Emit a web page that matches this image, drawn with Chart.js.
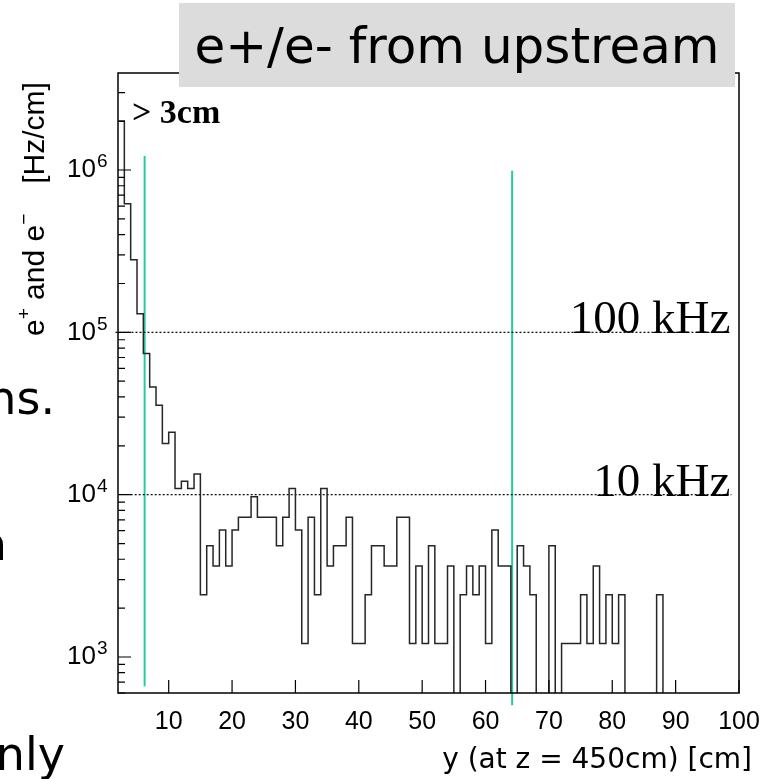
<!DOCTYPE html>
<html>
<head>
<meta charset="utf-8">
<script src="https://cdn.jsdelivr.net/npm/chart.js@4.4.0/dist/chart.umd.min.js"></script>
<style>
  html, body { margin: 0; padding: 0; background: #fff; }
</style>
</head>
<body>
<canvas id="rateChart" width="766" height="779"></canvas>
<script>
// histogram: 1 cm bins starting at y = 2 cm, rate in Hz/cm (0 = empty bin)
const binStart = 2;
const binWidth = 1;
const rates = [
  2.0e6, 6.2e5, 2.8e5, 1.3e5, 7.4e4, 4.6e4, 3.56e4, 2.07e4, 2.42e4, 1.09e4,   // 2-11
  1.21e4, 1.09e4, 1.34e4, 2420, 4850, 3640, 6060, 3640, 6060, 7270,           // 12-21
  7270, 9700, 7270, 7270, 7270, 4850, 7270, 10900, 6060, 1210,               // 22-31
  7270, 2420, 10900, 3640, 4850, 4850, 7270, 1210, 1210, 2420,               // 32-41
  4850, 4850, 3640, 3640, 7270, 7270, 1210, 3640, 1210, 4850,                // 42-51
  1210, 1210, 3640, 0, 2420, 3640, 2420, 3640, 1210, 6060,                   // 52-61
  3640, 3640, 0, 4850, 3640, 2420, 0, 0, 4850, 0,                            // 62-71
  1210, 1210, 1210, 2420, 1210, 3640, 1210, 2420, 1210, 2420,                // 72-81
  0, 0, 0, 0, 0, 2420, 0, 0, 0, 0,                                           // 82-91
  0, 0, 0, 0, 0, 0, 0, 0                                                     // 92-99
];

const xTicks = [10, 20, 30, 40, 50, 60, 70, 80, 90, 100];
const yTicks = [1e3, 1e4, 1e5, 1e6];

// reference rate lines and their labels
const refRates = [1e5, 1e4];
const refLabels = ['100 kHz', '10 kHz'];
const refFrom = [1.6, 4.0];
const refTo = 98.8;

// green cut lines
const cutX = [6.2, 64.2];
const cutTop = [1.22e6, 9.9e5];
const cutBottom = [660, 505];

const titleText = 'e+/e- from upstream';
const xTitle = 'y (at z = 450cm) [cm]';

const floorRate = 1; // empty bins drop below the axis

const histPoints = rates.map((v, i) => ({ x: binStart + i * binWidth, y: v > 0 ? v : floorRate }));
histPoints.push({ x: binStart + rates.length * binWidth, y: floorRate });

const datasets = [{
  data: histPoints,
  borderColor: '#262626',
  borderWidth: 1.5,
  stepped: 'before',
  pointRadius: 0,
  fill: false,
  clip: 0
}];

refRates.forEach((r, i) => {
  datasets.push({
    data: [{ x: refFrom[i], y: r }, { x: refTo, y: r }],
    borderColor: '#000',
    borderWidth: 1.2,
    borderDash: [2, 2],
    pointRadius: 0,
    clip: 10
  });
});

cutX.forEach((x, i) => {
  datasets.push({
    data: [{ x: x, y: cutBottom[i] }, { x: x, y: cutTop[i] }],
    borderColor: 'rgb(32, 205, 160)',
    borderWidth: 2,
    pointRadius: 0,
    clip: 20
  });
});

// frame, inside tick marks, labels and decorations
const decorations = {
  id: 'decorations',
  afterDraw(chart) {
    const ctx = chart.ctx;
    const area = chart.chartArea;
    const xs = chart.scales.x;
    const ys = chart.scales.y;
    ctx.save();

    ctx.strokeStyle = '#000';
    ctx.lineWidth = 1.5;
    ctx.strokeRect(area.left, area.top, area.right - area.left, area.bottom - area.top);

    ctx.lineWidth = 1.2;
    ctx.beginPath();
    xTicks.forEach(t => {
      const px = xs.getPixelForValue(t);
      ctx.moveTo(px, area.bottom);
      ctx.lineTo(px, area.bottom - 13);
    });
    for (let d = 2; d <= 6; d++) {
      for (let m = 1; m <= 9; m++) {
        const v = m * Math.pow(10, d);
        if (v < ys.min || v > ys.max) continue;
        const py = ys.getPixelForValue(v);
        ctx.moveTo(area.left, py);
        ctx.lineTo(area.left + (m === 1 ? 13 : 7), py);
      }
    }
    ctx.stroke();

    // y tick labels 10^n
    ctx.fillStyle = '#000';
    ys.ticks.forEach(t => {
      const py = ys.getPixelForValue(t.value);
      const e = Math.round(Math.log10(t.value));
      ctx.font = '26px "Liberation Sans", Arial, sans-serif';
      ctx.textAlign = 'right';
      ctx.textBaseline = 'middle';
      ctx.fillText('10', 96, py);
      ctx.font = '19px "Liberation Sans", Arial, sans-serif';
      ctx.textAlign = 'left';
      ctx.fillText(String(e), 97, py - 8);
    });

    // y axis title, rotated
    ctx.save();
    ctx.translate(44, 336);
    ctx.rotate(-Math.PI / 2);
    ctx.textAlign = 'left';
    ctx.textBaseline = 'alphabetic';
    let pos = 0;
    const big = '30px "Liberation Sans", Arial, sans-serif';
    const small = '19px "Liberation Sans", Arial, sans-serif';
    const parts = [['e', big, 0], ['+', small, -14], [' and e', big, 0], ['\u2212', small, -14], ['gap', big, 0], ['[Hz/cm]', big, 0]];
    parts.forEach(p => {
      if (p[0] === 'gap') { pos += 30; return; }
      ctx.font = p[1];
      ctx.fillText(p[0], pos, p[2]);
      pos += ctx.measureText(p[0]).width;
    });
    ctx.restore();

    // reference labels
    ctx.font = '47px "Liberation Serif", "Times New Roman", serif';
    ctx.textAlign = 'right';
    ctx.textBaseline = 'alphabetic';
    refRates.forEach((r, i) => {
      ctx.fillText(refLabels[i], xs.getPixelForValue(refTo) - 1, ys.getPixelForValue(r) + 1);
    });

    ctx.font = 'bold 34px "Liberation Serif", "Times New Roman", serif';
    ctx.textAlign = 'left';
    ctx.fillText('> 3cm', 132, 123);

    // title box
    ctx.fillStyle = '#dcdcdc';
    ctx.fillRect(179, 3, 556, 84);
    ctx.fillStyle = '#000';
    ctx.font = '50px "DejaVu Sans", sans-serif';
    ctx.textAlign = 'center';
    ctx.fillText(titleText, 457, 63);

    // x axis title
    ctx.font = '28px "DejaVu Sans", sans-serif';
    ctx.textAlign = 'right';
    ctx.fillText(xTitle, 752, 768);

    // clipped slide text at the left edge
    ctx.font = '46px "DejaVu Sans", sans-serif';
    ctx.textAlign = 'right';
    ctx.fillText('ns.', 55, 414);
    ctx.fillText('n', 7, 560);
    ctx.fillText('nly', 65, 770);

    ctx.restore();
  }
};

new Chart(document.getElementById('rateChart'), {
  type: 'line',
  data: { datasets: datasets },
  plugins: [decorations],
  options: {
    responsive: false,
    animation: false,
    layout: { padding: { left: 0, top: 73, right: 27, bottom: 0 } },
    plugins: { legend: { display: false }, tooltip: { enabled: false } },
    scales: {
      x: {
        type: 'linear',
        min: 2,
        max: 100,
        grid: { display: false },
        border: { display: false },
        afterBuildTicks: s => { s.ticks = xTicks.map(v => ({ value: v })); },
        afterFit: s => { s.height = 86; },
        ticks: {
          autoSkip: false,
          maxRotation: 0,
          padding: 6,
          color: '#000',
          font: { family: '"Liberation Sans", Arial, sans-serif', size: 25 }
        }
      },
      y: {
        type: 'logarithmic',
        min: 600,
        max: 3.96e6,
        grid: { display: false },
        border: { display: false },
        afterBuildTicks: s => { s.ticks = yTicks.map(v => ({ value: v })); },
        afterFit: s => { s.width = 118; },
        ticks: { display: false }
      }
    }
  }
});
</script>
</body>
</html>
